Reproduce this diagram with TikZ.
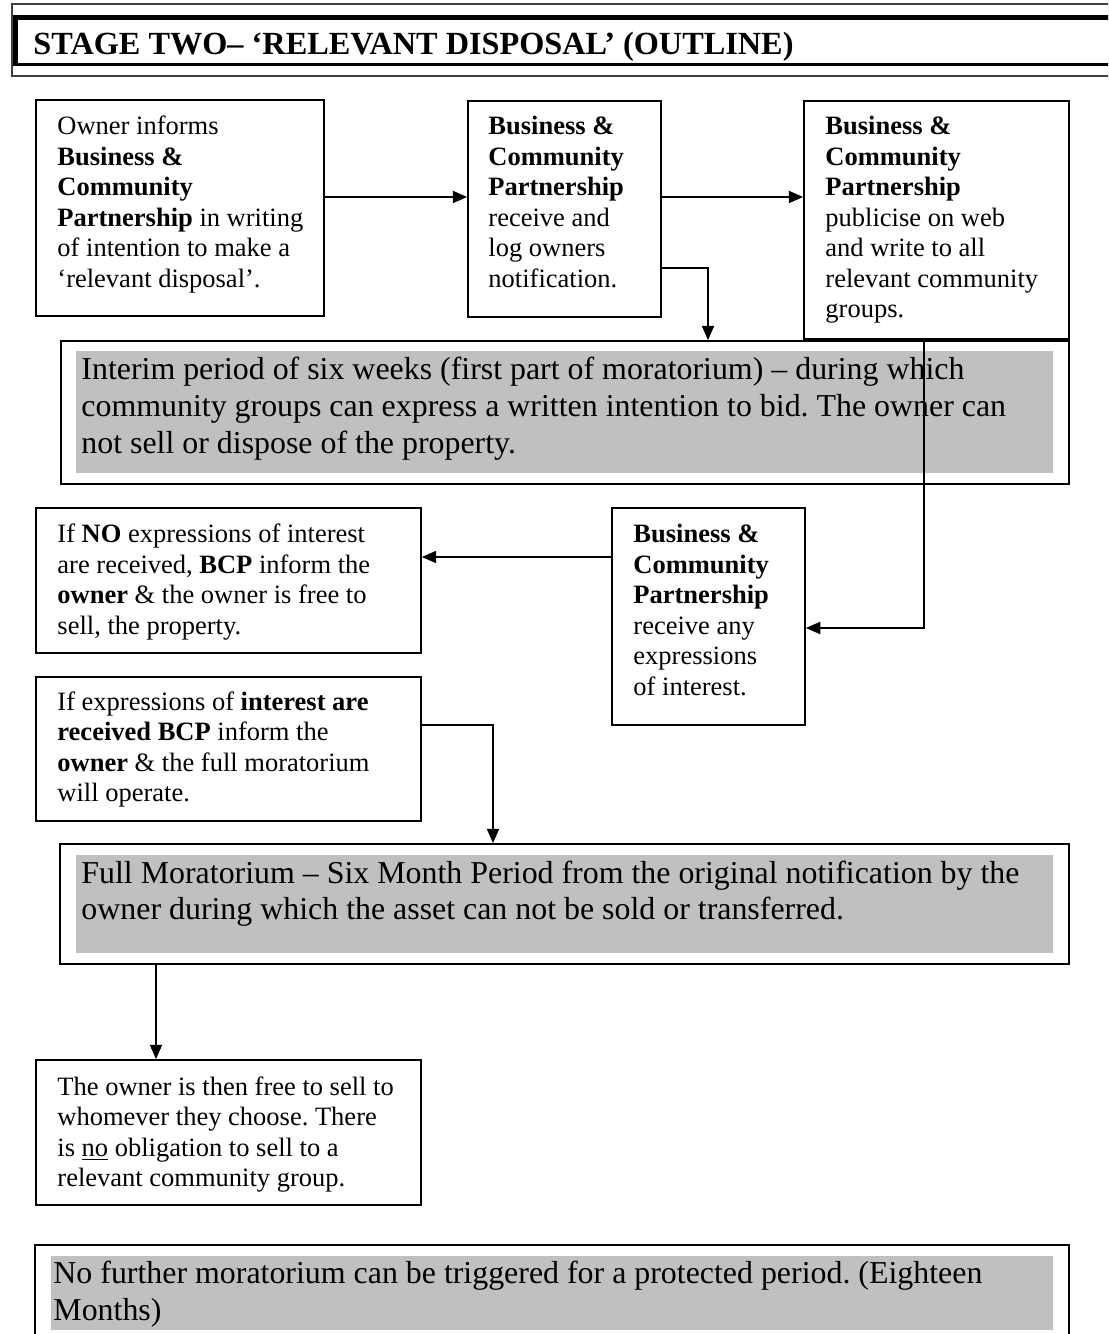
\documentclass[tikz,border=0pt]{standalone}
\usepackage{fontspec}
\setmainfont{Liberation Serif}
\usetikzlibrary{arrows.meta,fit}
\definecolor{shadegray}{HTML}{C0C0C0}
\frenchspacing
\newcommand{\smallfnt}{\fontsize{12}{13.81}\selectfont}
\newcommand{\bigfnt}{\fontsize{14.44}{16.75}\selectfont}
\newcommand{\mytextblock}[1]{\parbox[t]{480pt}{#1}}
\begin{document}
\begin{tikzpicture}[x=0.4528pt,y=-0.4528pt,
  boxframe/.style={draw=black, line width=0.8pt, inner sep=0pt},
  shade/.style={fill=shadegray, inner sep=0pt},
  txt/.style={anchor=base west, inner sep=0pt, font=\smallfnt},
  bigtxt/.style={anchor=base west, inner sep=0pt, font=\bigfnt},
  arr/.style={line width=0.7pt, -{Triangle[length=6.5pt,width=5.5pt]}},
  hdrline/.style={draw=black!75, line width=0.75pt}
]
\useasboundingbox (0,0) rectangle (1108,1334);
\clip (0,0) rectangle (1108,1334);

% header frame
\draw[hdrline] (1110,4) -- (12,4) -- (12,76) -- (1110,76);
\fill (13.3,15) rectangle (1110,20);
\fill (13.3,15) rectangle (18.3,65.9);
\fill (13.3,62.7) rectangle (1110,65.9);
\node[anchor=base west, inner sep=0pt, font=\bfseries\fontsize{14.62}{16.8}\selectfont] (hdr) at (33,55) {STAGE TWO– ‘RELEVANT DISPOSAL’ (OUTLINE)};

% boxes
\node[boxframe, fit={(36,100) (324,316)}] (A) {};
\node[boxframe, fit={(468,101) (661,317)}] (B) {};
\node[boxframe, fit={(804,101) (1069,339)}] (C) {};
\node[boxframe, fit={(61,341) (1069,484)}] (I) {};
\node[shade, fit={(76,351) (1053,473)}] (Ig) {};
\node[boxframe, fit={(612,508) (805,725)}] (D) {};
\node[boxframe, fit={(36,508) (421,653)}] (E) {};
\node[boxframe, fit={(36,677) (421,821)}] (F) {};
\node[boxframe, fit={(60,844) (1069,964)}] (M) {};
\node[shade, fit={(76,855) (1053,953)}] (Mg) {};
\node[boxframe, fit={(36,1060) (421,1205)}] (G) {};
\node[boxframe, fit={(35,1245) (1069,1360)}] (N) {};
\node[shade, fit={(51,1256) (1053,1330)}] (Ng) {};

% texts
\node[txt] (tA) at (57,135) {\mytextblock{\smallfnt Owner informs\\
\textbf{Business \&}\\
\textbf{Community}\\
\textbf{Partnership} in writing\\
of intention to make a\\
‘relevant disposal’.}};

\node[txt] (tB) at (488,135) {\mytextblock{\smallfnt \textbf{Business \&}\\
\textbf{Community}\\
\textbf{Partnership}\\
receive and\\
log owners\\
notification.}};

\node[txt] (tC) at (825,135) {\mytextblock{\smallfnt \textbf{Business \&}\\
\textbf{Community}\\
\textbf{Partnership}\\
publicise on web\\
and write to all\\
relevant community\\
groups.}};

\node[bigtxt] (tI) at (81,380) {\mytextblock{\bigfnt Interim period of six weeks (first part of moratorium) – during which\\
community groups can express a written intention to bid. The owner can\\
not sell or dispose of the property.}};

\node[txt] (tD) at (633,543) {\mytextblock{\smallfnt \textbf{Business \&}\\
\textbf{Community}\\
\textbf{Partnership}\\
receive any\\
expressions\\
of interest.}};

\node[txt] (tE) at (57,543) {\mytextblock{\smallfnt If \textbf{NO} expressions of interest\\
are received, \textbf{BCP} inform the\\
\textbf{owner} \& the owner is free to\\
sell, the property.}};

\node[txt] (tF) at (57,710) {\mytextblock{\smallfnt If expressions of \textbf{interest are}\\
\textbf{received BCP} inform the\\
\textbf{owner} \& the full moratorium\\
will operate.}};

\node[bigtxt] (tM) at (81,883) {\mytextblock{\bigfnt Full Moratorium – Six Month Period from the original notification by the\\
owner during which the asset can not be sold or transferred.}};

\node[txt] (tG) at (57,1095) {\mytextblock{\smallfnt The owner is then free to sell to\\
whomever they choose. There\\
is \underline{no} obligation to sell to a\\
relevant community group.}};

\node[bigtxt] (tN) at (53,1283) {\mytextblock{\bigfnt No further moratorium can be triggered for a protected period. (Eighteen\\
Months)}};

% connectors
\coordinate (ya) at (0,197);
\coordinate (yb) at (0,268);
\coordinate (xb) at (708,0);
\coordinate (xc) at (924,0);
\coordinate (yc) at (0,628);
\coordinate (yd) at (0,557);
\coordinate (ye) at (0,725);
\coordinate (xe) at (493,0);
\coordinate (xf) at (156,0);

\draw[arr] (A.east |- ya) -- (B.west |- ya);
\draw[arr] (B.east |- ya) -- (C.west |- ya);
\draw[arr] (B.east |- yb) -| (xb |- I.north);
\draw[arr] (xc |- C.south) |- (D.east |- yc);
\draw[arr] (D.west |- yd) -- (E.east |- yd);
\draw[arr] (F.east |- ye) -| (xe |- M.north);
\draw[arr] (xf |- M.south) -- (xf |- G.north);
\end{tikzpicture}
\end{document}
